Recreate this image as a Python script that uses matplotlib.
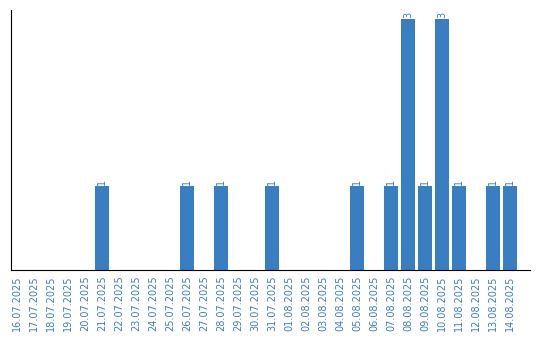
import numpy as np
import matplotlib
matplotlib.use("Agg")
import matplotlib.pyplot as plt

# data
dates = ["16.07.2025", "17.07.2025", "18.07.2025", "19.07.2025", "20.07.2025",
         "21.07.2025", "22.07.2025", "23.07.2025", "24.07.2025", "25.07.2025",
         "26.07.2025", "27.07.2025", "28.07.2025", "29.07.2025", "30.07.2025",
         "31.07.2025", "01.08.2025", "02.08.2025", "03.08.2025", "04.08.2025",
         "05.08.2025", "06.08.2025", "07.08.2025", "08.08.2025", "09.08.2025",
         "10.08.2025", "11.08.2025", "12.08.2025", "13.08.2025", "14.08.2025"]
counts = [0, 0, 0, 0, 0,
          1, 0, 0, 0, 0,
          1, 0, 1, 0, 0,
          1, 0, 0, 0, 0,
          1, 0, 1, 3, 1,
          3, 1, 0, 1, 1]

blue = "#3a7ec2"

fig = plt.figure(figsize=(5.4, 3.4), dpi=100)
ax = fig.add_axes([11 / 540, 70 / 340, 519 / 540, 260 / 340])

x = np.arange(len(dates))
ax.bar(x, counts, width=0.82, color=blue)

for xi, c in zip(x, counts):
    if c > 0:
        ax.text(xi, c + 0.02, str(c), rotation=90, ha="center", va="bottom",
                color=blue, fontsize=7)

ax.set_xlim(-0.35, len(dates) - 1 + 1.18)
ax.set_ylim(0, 3.11)
ax.set_xticks(x)
ax.set_xticklabels(dates, rotation=90, color=blue, fontsize=7)
ax.tick_params(axis="x", length=0, pad=4)
ax.set_yticks([])
ax.spines["top"].set_visible(False)
ax.spines["right"].set_visible(False)

plt.savefig("out.png", dpi=100)
